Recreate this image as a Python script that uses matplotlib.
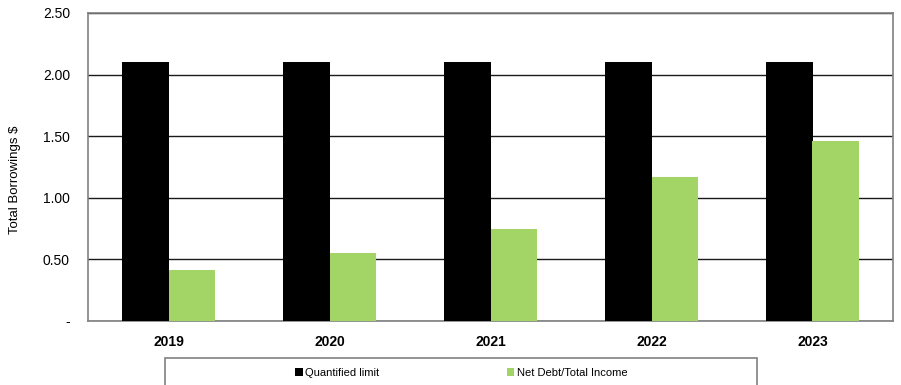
import matplotlib.pyplot as plt
import numpy as np
from matplotlib.patches import Rectangle

years = ['2019', '2020', '2021', '2022', '2023']
quantified_limit = [2.10, 2.10, 2.10, 2.10, 2.10]
net_debt_income = [0.41, 0.55, 0.75, 1.17, 1.46]
yticks = [0, 0.5, 1.0, 1.5, 2.0, 2.5]
ytick_labels = ['-', '0.50', '1.00', '1.50', '2.00', '2.50']

plt.rcParams['font.family'] = ['Liberation Sans', 'DejaVu Sans']

black = '#000000'
green = '#A2D565'

fig = plt.figure(figsize=(9.01, 3.85), dpi=100)
ax = fig.add_axes([88 / 901, 64 / 385, 805 / 901, 308 / 385])

x = np.arange(len(years))
w = 0.29
ax.bar(x - w / 2, quantified_limit, w, color=black, label='Quantified limit', zorder=3)
ax.bar(x + w / 2, net_debt_income, w, color=green, label='Net Debt/Total Income', zorder=3)

ax.set_xlim(-0.5, len(years) - 0.5)
ax.set_ylim(0, 2.5)
ax.set_yticks(yticks)
ax.set_yticklabels(ytick_labels, fontsize=10)
ax.set_xticks(x)
ax.set_xticklabels(years, fontsize=10, fontweight='bold')
ax.tick_params(axis='y', length=0, pad=13)
ax.tick_params(axis='x', length=0, pad=10)
ax.yaxis.grid(True, color='#1a1a1a', linewidth=1.0, zorder=0)
ax.set_axisbelow(True)
for s in ax.spines.values():
    s.set_color('#808080')
    s.set_linewidth(1.2)

fig.text(15 / 901, 1 - 180 / 385, 'Total Borrowings $', rotation=90,
         ha='center', va='center', fontsize=9.5)

# legend box (runs off the bottom edge)
fig.patches.append(Rectangle((165 / 901, -10 / 385), 592 / 901, 37 / 385,
                             transform=fig.transFigure, fill=False,
                             edgecolor='#808080', linewidth=1.2))
fig.legend(loc='center', bbox_to_anchor=(461 / 901, 1 - 373 / 385), ncol=2,
           frameon=False, fontsize=8, handlelength=0.7, handleheight=0.7,
           handletextpad=0.2, columnspacing=11.5)

plt.savefig('out.png', dpi=100)
